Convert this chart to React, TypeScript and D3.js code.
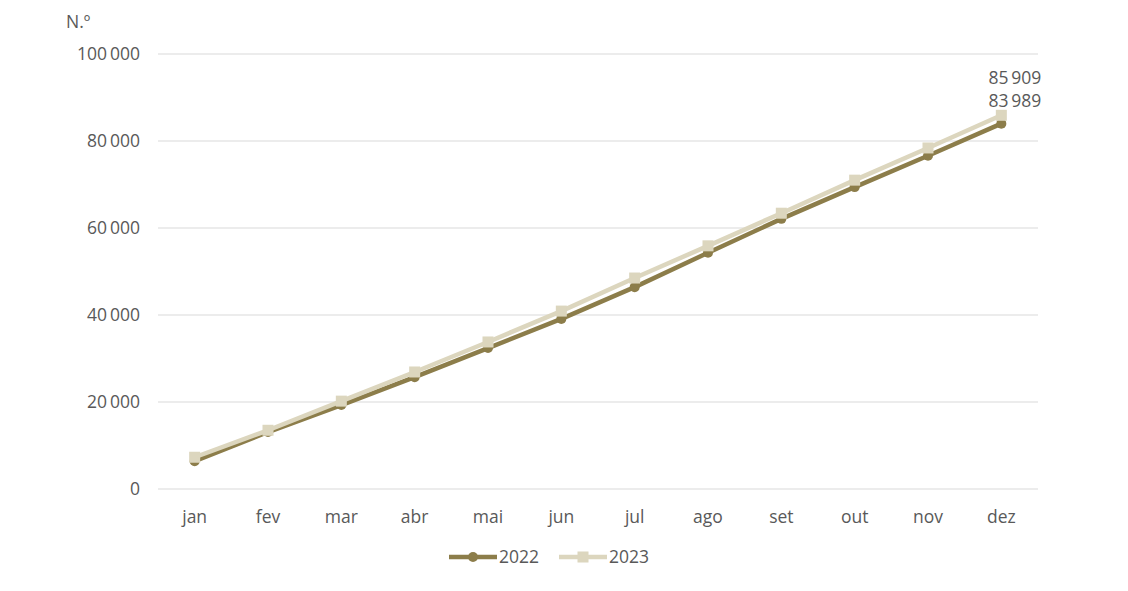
import React from 'react';
import * as d3 from 'd3';

const months = ['jan', 'fev', 'mar', 'abr', 'mai', 'jun', 'jul', 'ago', 'set', 'out', 'nov', 'dez'];
const values2022 = [6400, 13100, 19300, 25700, 32400, 39100, 46400, 54300, 62100, 69400, 76600, 83989];
const values2023 = [7300, 13500, 20200, 26900, 33800, 40900, 48500, 55900, 63400, 71000, 78400, 85909];
const yTicks = [0, 20000, 40000, 60000, 80000, 100000];

const width = 1128, height = 591;
const margin = { left: 158, right: 90, top: 54, bottom: 102 };
const font = '"Open Sans", sans-serif';
const fontSize = 17.5;
const textColor = '#595959';
const dark = '#8C7D4A';
const light = '#DCD6BE';

const fmt = d3.formatLocale({ decimal: ',', thousands: '\u2009', grouping: [3], currency: ['', '€'] }).format(',d');

export default function App() {
  const x = d3.scaleBand().domain(months).range([margin.left, width - margin.right]);
  const y = d3.scaleLinear().domain([0, 100000]).range([height - margin.bottom, margin.top]);
  const cx = (m: string) => (x(m) as number) + x.bandwidth() / 2;

  const line = d3.line<number>()
    .x((_, i) => cx(months[i]))
    .y(d => y(d));

  const last = months[months.length - 1];

  return (
    <svg width={width} height={height} style={{ position: 'absolute', left: 0, top: 0, fontFamily: font }}>
      {/* grid */}
      {yTicks.map(t => (
        <g key={t}>
          <line x1={margin.left} x2={width - margin.right} y1={y(t)} y2={y(t)} stroke="#d9d9d9" strokeWidth={1} />
          <text x={140} y={y(t)} dy="0.35em" textAnchor="end" fontSize={fontSize} fill={textColor}>{fmt(t)}</text>
        </g>
      ))}
      <text x={66} y={28} fontSize={fontSize} fill={textColor}>N.º</text>

      {months.map(m => (
        <text key={m} x={cx(m)} y={523} textAnchor="middle" fontSize={fontSize} fill={textColor}>{m}</text>
      ))}

      {/* 2022 */}
      <path d={line(values2022) as string} fill="none" stroke={dark} strokeWidth={4.5} strokeLinejoin="round" />
      {values2022.map((v, i) => (
        <circle key={i} cx={cx(months[i])} cy={y(v)} r={5} fill={dark} />
      ))}

      {/* 2023 */}
      <path d={line(values2023) as string} fill="none" stroke={light} strokeWidth={4.5} strokeLinejoin="round" />
      {values2023.map((v, i) => (
        <rect key={i} x={cx(months[i]) - 5.5} y={y(v) - 5.5} width={11} height={11} fill={light} />
      ))}

      {/* end labels */}
      <text x={cx(last) + 40} y={y(values2023[11]) - 31} textAnchor="end" fontSize={fontSize} fill={textColor}>{fmt(values2023[11])}</text>
      <text x={cx(last) + 40} y={y(values2022[11]) - 17} textAnchor="end" fontSize={fontSize} fill={textColor}>{fmt(values2022[11])}</text>

      {/* legend */}
      <g transform="translate(449,557)">
        <line x1={0} x2={48} y1={0} y2={0} stroke={dark} strokeWidth={4.5} />
        <circle cx={24} cy={0} r={5} fill={dark} />
        <text x={50} y={0} dy="0.35em" fontSize={fontSize} fill={textColor}>2022</text>
      </g>
      <g transform="translate(559,557)">
        <line x1={0} x2={48} y1={0} y2={0} stroke={light} strokeWidth={4.5} />
        <rect x={18.5} y={-5.5} width={11} height={11} fill={light} />
        <text x={50} y={0} dy="0.35em" fontSize={fontSize} fill={textColor}>2023</text>
      </g>
    </svg>
  );
}
